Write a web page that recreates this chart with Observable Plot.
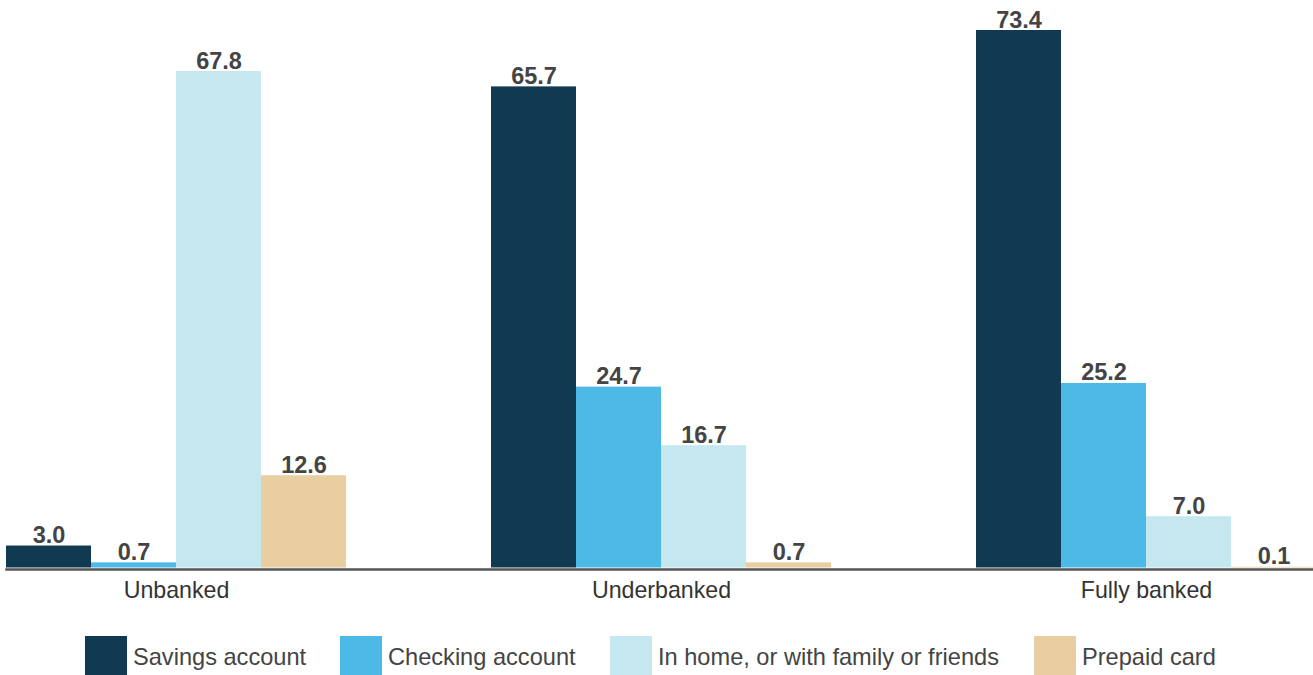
<!DOCTYPE html>
<html>
<head>
<meta charset="utf-8">
<script src="https://cdn.jsdelivr.net/npm/d3@7"></script>
<script src="https://cdn.jsdelivr.net/npm/@observablehq/plot@0.6"></script>
<style>
  html, body { margin: 0; padding: 0; background: #fff; }
  body { width: 1313px; height: 675px; overflow: hidden; font-family: "Liberation Sans", Arial, Helvetica, sans-serif; }
  #legend { position: relative; height: 51px; }
  .item { position: absolute; top: 12px; display: flex; align-items: center; font-size: 23.6px; color: #444; white-space: nowrap; }
  .item:nth-child(1) { left: 85px; }
  .item:nth-child(2) { left: 340px; }
  .item:nth-child(3) { left: 610px; }
  .item:nth-child(4) { left: 1034px; }
  .sw { width: 42px; height: 42px; margin-right: 6px; }
</style>
</head>
<body>
<div id="chart"></div>
<div id="legend"></div>
<script>
const groups = ["Unbanked", "Underbanked", "Fully banked"];
const seriesNames = ["Savings account", "Checking account", "In home, or with family or friends", "Prepaid card"];
const colors = ["#0f3a52", "#4cb9e6", "#c4e7f0", "#e8cea0"];
const unbanked = [3.0, 0.7, 67.8, 12.6];
const underbanked = [65.7, 24.7, 16.7, 0.7];
const fullyBanked = [73.4, 25.2, 7.0, 0.1];

const valuesByGroup = [unbanked, underbanked, fullyBanked];
const data = [];
groups.forEach((g, gi) => seriesNames.forEach((s, si) => data.push({group: g, series: s, value: valuesByGroup[gi][si]})));

const chart = Plot.plot({
  width: 1313,
  height: 624,
  marginTop: 0,
  marginLeft: 6,
  marginRight: 0,
  marginBottom: 55,
  style: {fontFamily: "'Liberation Sans', Arial, Helvetica, sans-serif", background: "#fff"},
  fx: {domain: groups, range: [6, 1316], paddingInner: 0.299, paddingOuter: 0, label: null},
  x: {domain: seriesNames, padding: 0, axis: null},
  y: {domain: [0, 73.4], range: [567.5, 30], axis: null},
  color: {domain: seriesNames, range: colors},
  marks: [
    Plot.barY(data, {fx: "group", x: "series", y: "value", fill: "series"}),
    Plot.text(data, {fx: "group", x: "series", y: "value", text: d => d.value.toFixed(1), lineAnchor: "bottom", dy: -3, fontSize: 23.5, fontWeight: "bold", fill: "#444"}),
    Plot.frame({anchor: "bottom", facet: "super", stroke: "#555", strokeWidth: 2.5}),
    Plot.axisFx({anchor: "bottom", tickSize: 0, tickPadding: 12, fontSize: 23.2, label: null, color: "#333"})
  ]
});
document.getElementById("chart").appendChild(chart);

const legend = document.getElementById("legend");
seriesNames.forEach((s, i) => {
  const item = document.createElement("div");
  item.className = "item";
  const sw = document.createElement("div");
  sw.className = "sw";
  sw.style.background = colors[i];
  const lab = document.createElement("span");
  lab.textContent = s;
  item.appendChild(sw);
  item.appendChild(lab);
  legend.appendChild(item);
});
</script>
</body>
</html>
